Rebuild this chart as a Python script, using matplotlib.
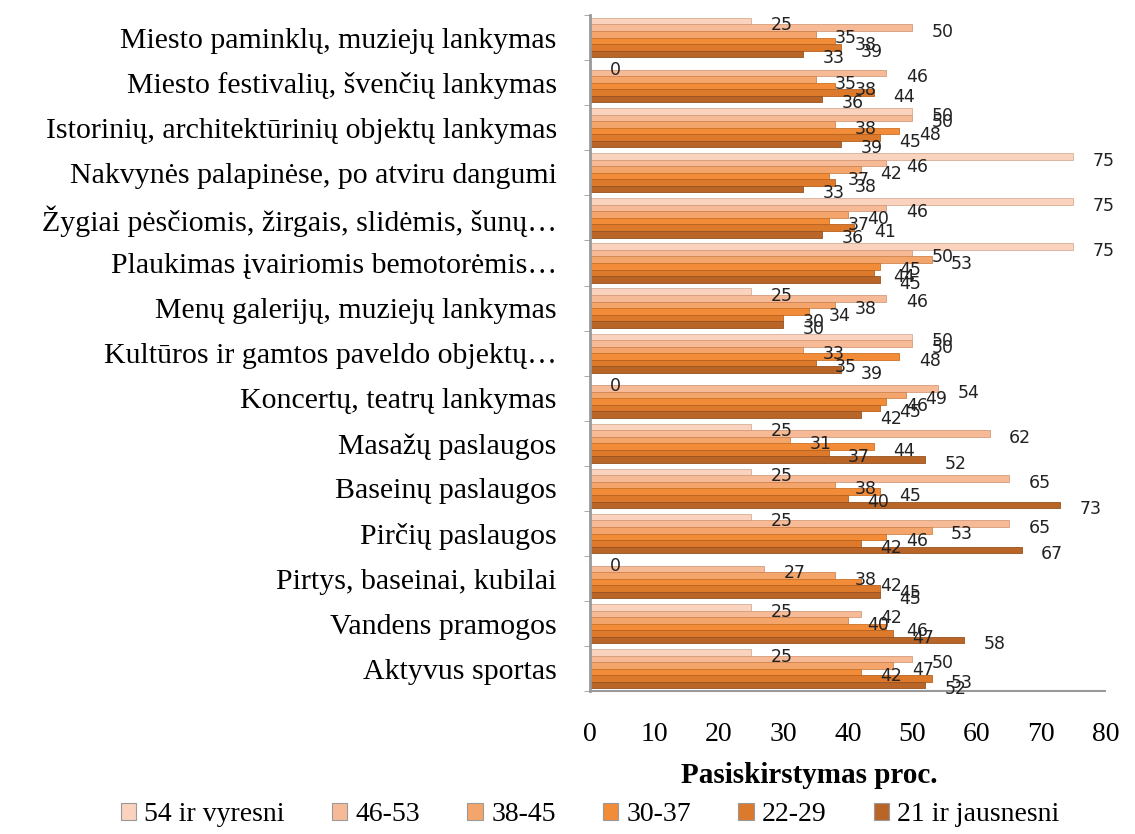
import matplotlib.pyplot as plt
from matplotlib.patches import Patch
import numpy as np

categories = [
    "Miesto paminklų, muziejų lankymas",
    "Miesto festivalių, švenčių lankymas",
    "Istorinių, architektūrinių objektų lankymas",
    "Nakvynės palapinėse, po atviru dangumi",
    "Žygiai pėsčiomis, žirgais, slidėmis, šunų…",
    "Plaukimas įvairiomis bemotorėmis…",
    "Menų galerijų, muziejų lankymas",
    "Kultūros ir gamtos paveldo objektų…",
    "Koncertų, teatrų lankymas",
    "Masažų paslaugos",
    "Baseinų paslaugos",
    "Pirčių paslaugos",
    "Pirtys, baseinai, kubilai",
    "Vandens pramogos",
    "Aktyvus sportas",
]

series_names = ["54 ir vyresni", "46-53", "38-45", "30-37", "22-29", "21 ir jausnesni"]

age_54_plus = [25, 0, 50, 75, 75, 75, 25, 50, 0, 25, 25, 25, 0, 25, 25]
age_46_53 = [50, 46, 50, 46, 46, 50, 46, 50, 54, 62, 65, 65, 27, 42, 50]
age_38_45 = [35, 35, 38, 42, 40, 53, 38, 33, 49, 31, 38, 53, 38, 40, 47]
age_30_37 = [38, 38, 48, 37, 37, 45, 34, 48, 46, 44, 45, 46, 42, 46, 42]
age_22_29 = [39, 44, 45, 38, 41, 44, 30, 35, 45, 37, 40, 42, 45, 47, 53]
age_21_less = [33, 36, 39, 33, 36, 45, 30, 39, 42, 52, 73, 67, 45, 58, 52]

series = [age_54_plus, age_46_53, age_38_45, age_30_37, age_22_29, age_21_less]
colors = ["#F9D3BE", "#F6BB96", "#F4A56C", "#F28C38", "#DC792B", "#BA6528"]
edges = ["#D9AE98", "#D59C7A", "#D08550", "#CC7228", "#B8621F", "#97521F"]

serif = "Liberation Serif"

fig = plt.figure(figsize=(11.35, 8.34), dpi=100)
ax = fig.add_axes([0.520, 0.171, 0.454, 0.811])

y = np.arange(len(categories))
h = 0.145
for j, vals in enumerate(series):
    pos = y - 2.5 * h + j * h
    ax.barh(pos, vals, height=h, color=colors[j], edgecolor=edges[j],
            linewidth=0.6, zorder=2)
    for p, v in zip(pos, vals):
        ax.annotate(str(v), (v, p), xytext=(14, -3), textcoords="offset points",
                    ha="left", va="center", fontsize=12.5, color="#222222",
                    family="DejaVu Sans", zorder=3)

ax.set_xlim(0, 80)
ax.set_ylim(len(categories) - 0.5, -0.5)
ax.set_xticks(range(0, 81, 10))
ax.set_yticks(y)
ax.set_yticklabels(categories, family=serif, fontsize=21.5)
ax.set_yticks(np.arange(-0.5, len(categories), 1), minor=True)
ax.tick_params(axis="y", which="major", length=0, pad=24)
ax.tick_params(axis="y", which="minor", length=4, color="#999999")
ax.tick_params(axis="x", length=0, pad=22)
for lbl in ax.get_xticklabels():
    lbl.set_family(serif)
    lbl.set_fontsize(20)

for s in ["top", "right"]:
    ax.spines[s].set_visible(False)
ax.spines["left"].set_color("#999999")
ax.spines["left"].set_linewidth(2)
ax.spines["bottom"].set_color("#999999")
ax.spines["bottom"].set_linewidth(1.5)

ax.set_xlabel("Pasiskirstymas proc.", family=serif, fontsize=21,
              fontweight="bold")
ax.xaxis.set_label_coords(0.425, -0.104)

handles = [Patch(facecolor=c, edgecolor="#999999", linewidth=0.8)
           for c in colors]
fig.legend(handles, series_names, loc="lower center", ncol=6, frameon=False,
           bbox_to_anchor=(0.52, -0.022), prop={"family": serif, "size": 20},
           handlelength=0.55, handleheight=0.55, handletextpad=0.3,
           columnspacing=1.7)

fig.savefig("out.png", dpi=100)
